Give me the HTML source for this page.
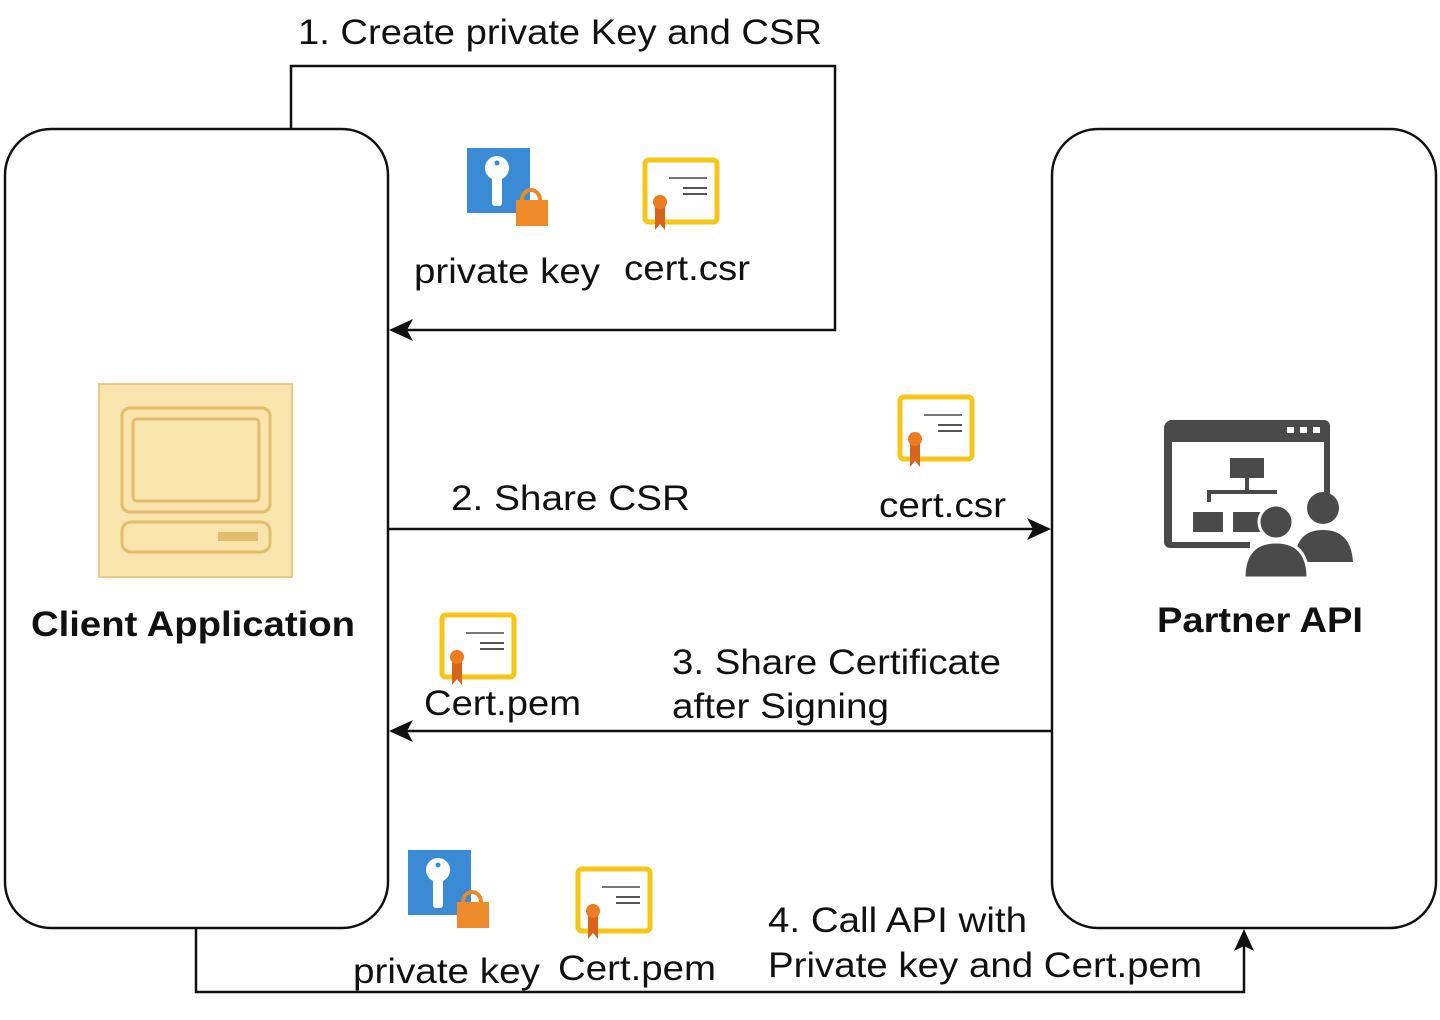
<!DOCTYPE html>
<html><head><meta charset="utf-8"><style>
html,body{margin:0;padding:0;background:#fff;}
svg{display:block;}
text{font-family:"Liberation Sans",Arial,sans-serif;fill:#111;}
</style></head><body>
<svg width="1440" height="1020" viewBox="0 0 1440 1020" xmlns="http://www.w3.org/2000/svg">
<defs>
<g id="key">
  <rect x="0" y="0" width="63" height="65" fill="#3b8ad6"/>
  <circle cx="30" cy="20" r="12" fill="#fff"/>
  <rect x="25" y="24" width="10" height="34" rx="3" fill="#fff"/>
  <circle cx="30" cy="15" r="2.5" fill="#3b8ad6"/>
  <path d="M55 52 a9 10 0 0 1 18 0" fill="none" stroke="#e88a2a" stroke-width="4"/>
  <rect x="49" y="52" width="32" height="26" fill="#ee8a2a"/>
</g>
<g id="cert">
  <rect x="2" y="2" width="72" height="62" rx="4" fill="#fff" stroke="#f5c518" stroke-width="5"/>
  <line x1="26" y1="20" x2="64" y2="20" stroke="#777" stroke-width="2"/>
  <line x1="40" y1="30" x2="64" y2="30" stroke="#555" stroke-width="2"/>
  <line x1="40" y1="36" x2="64" y2="36" stroke="#555" stroke-width="2"/>
  <path d="M12 44 l0 28 l5 -6 l5 6 l0 -28z" fill="#d8641c"/>
  <circle cx="17" cy="44" r="7" fill="#ee7a22"/>
</g>
</defs>

<rect x="5" y="129" width="383" height="799" rx="46" fill="#fff" stroke="#111" stroke-width="2.5"/>
<rect x="1052" y="129" width="384" height="799" rx="46" fill="#fff" stroke="#111" stroke-width="2.5"/>

<g fill="none" stroke="#111" stroke-width="2.5">
  <polyline points="291,128 291,66 835,66 835,330 400,330"/>
  <line x1="388" y1="529" x2="1038" y2="529"/>
  <line x1="1052" y1="731" x2="402" y2="731"/>
  <polyline points="196,928 196,992 1244,992 1244,942"/>
</g>
<g fill="#111">
  <path d="M389 330 l24 -11 l-6 11 l6 11z"/>
  <path d="M1051 529 l-24 -11 l6 11 l-6 11z"/>
  <path d="M389 731 l24 -11 l-6 11 l6 11z"/>
  <path d="M1244 929 l-10 22 l10 -5 l10 5z"/>
</g>

<use href="#key" x="467" y="148"/>
<use href="#cert" x="643" y="158"/>
<use href="#cert" x="898" y="395"/>
<use href="#cert" x="440" y="613"/>
<use href="#key" x="408" y="850"/>
<use href="#cert" x="576" y="867"/>

<rect x="99" y="384" width="193" height="193" fill="#f9e4ad" stroke="#eacb86" stroke-width="2"/>
<rect x="122" y="408" width="148" height="104" rx="8" fill="none" stroke="#e0bd6c" stroke-width="3"/>
<rect x="133" y="419" width="126" height="82" rx="4" fill="none" stroke="#e0bd6c" stroke-width="3"/>
<rect x="122" y="522" width="148" height="30" rx="9" fill="none" stroke="#e0bd6c" stroke-width="3"/>
<rect x="218" y="532" width="40" height="9" fill="#e0bd6c"/>

<g fill="#4a4a4a">
  <path d="M1172 420 h150 a8 8 0 0 1 8 8 v70 h-6 v-56 h-152 v100 h78 v6 h-80 a6 6 0 0 1 -6 -6 v-114 a8 8 0 0 1 8 -8z"/>
  <rect x="1166" y="420" width="164" height="22" rx="6"/>
  <rect x="1230" y="458" width="34" height="20"/>
  <rect x="1245" y="478" width="4" height="14"/>
  <rect x="1207" y="490" width="70" height="4"/>
  <rect x="1207" y="490" width="4" height="12"/>
  <rect x="1193" y="512" width="30" height="20"/>
  <rect x="1233" y="512" width="28" height="20"/>
  <circle cx="1323" cy="508" r="16"/>
  <path d="M1295 562 q0 -32 28 -32 q28 0 30 32z"/>
  <circle cx="1276" cy="522" r="17" stroke="#fff" stroke-width="3"/>
  <path d="M1244 578 q0 -36 32 -36 q32 0 32 36z" stroke="#fff" stroke-width="3"/>
</g>
<g fill="#fff"><rect x="1287" y="427" width="7" height="6"/><rect x="1300" y="427" width="7" height="6"/><rect x="1313" y="427" width="7" height="6"/></g>

<g font-size="35" lengthAdjust="spacingAndGlyphs">
<text x="298" y="44" textLength="524" lengthAdjust="spacingAndGlyphs">1. Create private Key and CSR</text>
<text x="414" y="283" textLength="186" lengthAdjust="spacingAndGlyphs">private key</text>
<text x="624" y="280" textLength="126" lengthAdjust="spacingAndGlyphs">cert.csr</text>
<text x="451" y="510" textLength="239" lengthAdjust="spacingAndGlyphs">2. Share CSR</text>
<text x="879" y="517" textLength="127" lengthAdjust="spacingAndGlyphs">cert.csr</text>
<text x="31" y="636" font-weight="bold" textLength="324" lengthAdjust="spacingAndGlyphs">Client Application</text>
<text x="1157" y="632" font-weight="bold" textLength="206" lengthAdjust="spacingAndGlyphs">Partner API</text>
<text x="424" y="715" textLength="157" lengthAdjust="spacingAndGlyphs">Cert.pem</text>
<text x="672" y="674" textLength="329" lengthAdjust="spacingAndGlyphs">3. Share Certificate</text>
<text x="672" y="718" textLength="217" lengthAdjust="spacingAndGlyphs">after Signing</text>
<text x="768" y="932" textLength="259" lengthAdjust="spacingAndGlyphs">4. Call API with</text>
<text x="768" y="977" textLength="434" lengthAdjust="spacingAndGlyphs">Private key and Cert.pem</text>
<text x="353" y="983" textLength="187" lengthAdjust="spacingAndGlyphs">private key</text>
<text x="558" y="980" textLength="158" lengthAdjust="spacingAndGlyphs">Cert.pem</text>
</g>
</svg>
</body></html>
